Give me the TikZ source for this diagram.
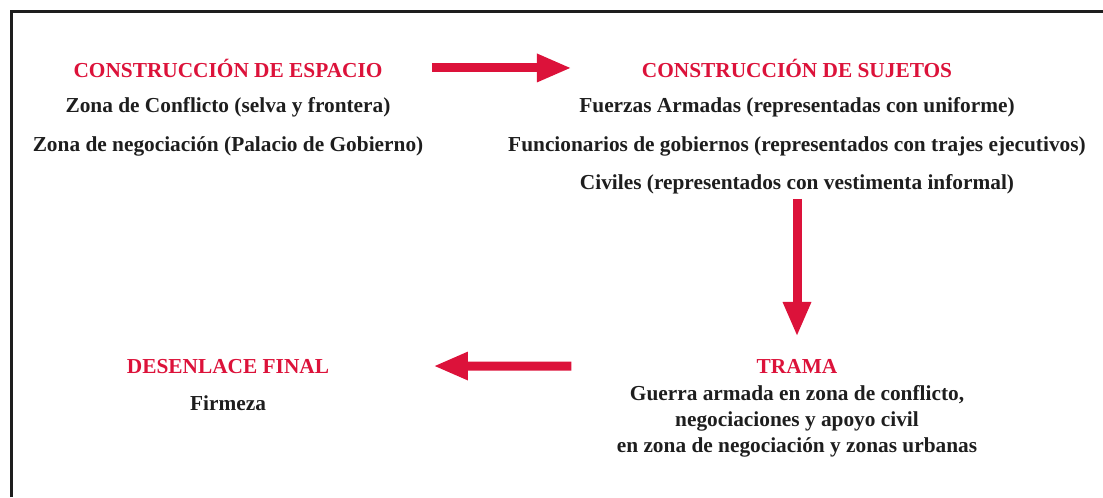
\documentclass[tikz,border=0pt]{standalone}
\usepackage{fontspec}
\setmainfont{Liberation Serif}
\usepackage{xcolor}
\usepackage{tikz}
\usetikzlibrary{arrows.meta}

\definecolor{titlered}{RGB}{220,18,58}
\definecolor{textdark}{RGB}{30,30,30}

\tikzset{
  titletext/.style={anchor=base, inner sep=0pt, text=titlered, font=\fontsize{16}{19}\selectfont\bfseries},
  itemtext/.style={anchor=base, inner sep=0pt, text=textdark, font=\fontsize{16}{19}\selectfont\bfseries},
  bigarrow/.style={draw=titlered, line width=6.75pt, -{Triangle[length=26pt,width=19.5pt]}}
}

\begin{document}
\begin{tikzpicture}[x=0.75pt,y=0.75pt,yscale=-1,xscale=1]
\useasboundingbox (0,0) rectangle (1103,497);

%Frame lines
\draw [line width=2.4pt, color=textdark] (11.5,497) -- (11.5,11.5) -- (1103,11.5) ;

% Text Node
\node (espacio) at (228,77) [titletext] {CONSTRUCCIÓN DE ESPACIO};
% Text Node
\node (conflicto) at (228,112) [itemtext] {Zona de Conflicto (selva y frontera)};
% Text Node
\node (negociacion) at (228,151) [itemtext] {Zona de negociación (Palacio de Gobierno)};

% Text Node
\node (sujetos) at (797,77) [titletext] {CONSTRUCCIÓN DE SUJETOS};
% Text Node
\node (fuerzas) at (797,112) [itemtext] {Fuerzas Armadas (representadas con uniforme)};
% Text Node
\node (funcionarios) at (797,151) [itemtext] {Funcionarios de gobiernos (representados con trajes ejecutivos)};
% Text Node
\node (civiles) at (797,189) [itemtext] {Civiles (representados con vestimenta informal)};

% Text Node
\node (trama) at (797,373) [titletext] {TRAMA};
% Text Node
\node (guerra) at (797,400) [itemtext] {Guerra armada en zona de conflicto,};
% Text Node
\node (apoyo) at (797,426) [itemtext] {negociaciones y apoyo civil};
% Text Node
\node (urbanas) at (797,452) [itemtext] {en zona de negociación y zonas urbanas};

% Text Node
\node (desenlace) at (228,373) [titletext] {DESENLACE FINAL};
% Text Node
\node (firmeza) at (228,410) [itemtext] {Firmeza};

%Arrows
\draw [bigarrow, shorten <=36.75pt, shorten >=52.5pt] (espacio.east) -- (sujetos.west) ;
\draw [bigarrow, shorten <=3.75pt, shorten >=16.5pt] (civiles.south) -- (trama.north) ;
\draw [bigarrow, shorten <=138.75pt, shorten >=78pt] (trama.west) -- (desenlace.east) ;

\end{tikzpicture}
\end{document}
